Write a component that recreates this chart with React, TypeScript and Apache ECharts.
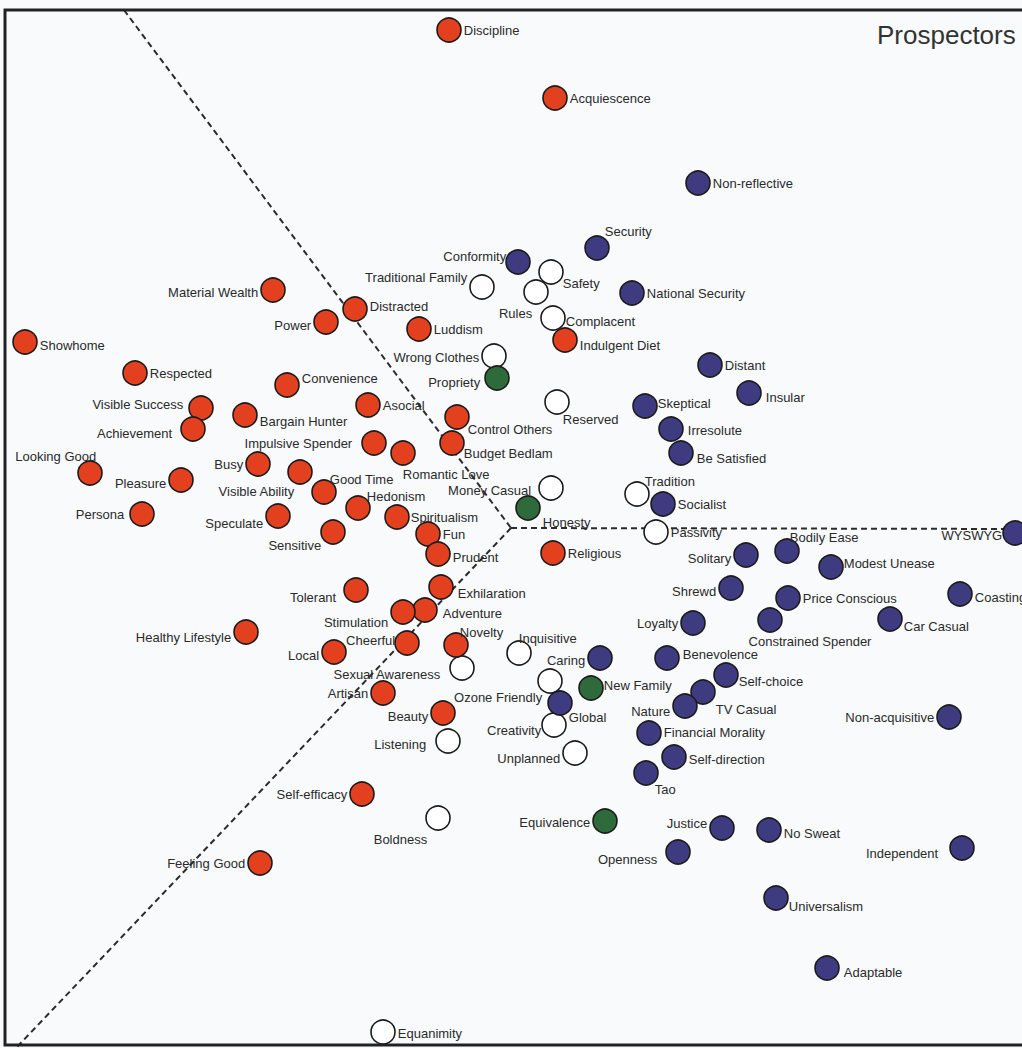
import React, { useEffect, useRef } from "react";
import * as echarts from "echarts";

// [label, x, y] — positions (pixel-like units, y grows downward)
const redPoints: [string, number, number][] = [
  ["Discipline", 449, 30],
  ["Acquiescence", 555, 98],
  ["Material Wealth", 273, 290],
  ["Distracted", 355, 309],
  ["Power", 326, 322],
  ["Luddism", 419, 329],
  ["Showhome", 25, 342],
  ["Indulgent Diet", 565, 340],
  ["Respected", 135, 373],
  ["Convenience", 287, 385],
  ["Asocial", 368, 405],
  ["Visible Success", 201, 408],
  ["Bargain Hunter", 245, 415],
  ["Control Others", 457, 417],
  ["Achievement", 193, 429],
  ["Impulsive Spender", 374, 443],
  ["Budget Bedlam", 452, 443],
  ["Romantic Love", 403, 453],
  ["Busy", 258, 464],
  ["Looking Good", 90, 473],
  ["Visible Ability", 300, 472],
  ["Pleasure", 181, 480],
  ["Good Time", 324, 492],
  ["Hedonism", 358, 508],
  ["Persona", 142, 514],
  ["Speculate", 278, 516],
  ["Spiritualism", 397, 517],
  ["Sensitive", 333, 532],
  ["Fun", 428, 534],
  ["Religious", 553, 553],
  ["Prudent", 438, 554],
  ["Exhilaration", 441, 587],
  ["Tolerant", 356, 590],
  ["Adventure", 425, 610],
  ["Stimulation", 403, 612],
  ["Healthy Lifestyle", 246, 632],
  ["Cheerful", 407, 643],
  ["Novelty", 456, 645],
  ["Local", 334, 652],
  ["Artisan", 383, 693],
  ["Beauty", 443, 713],
  ["Self-efficacy", 362, 794],
  ["Feeling Good", 260, 863],
];

const bluePoints: [string, number, number][] = [
  ["Non-reflective", 698, 183],
  ["Security", 597, 248],
  ["Conformity", 518, 262],
  ["National Security", 632, 293],
  ["Distant", 710, 365],
  ["Insular", 749, 393],
  ["Skeptical", 645, 406],
  ["Irresolute", 671, 429],
  ["Be Satisfied", 681, 453],
  ["Socialist", 663, 504],
  ["WYSWYG", 1015, 533],
  ["Bodily Ease", 787, 551],
  ["Solitary", 746, 555],
  ["Modest Unease", 831, 567],
  ["Shrewd", 731, 588],
  ["Coasting", 960, 594],
  ["Price Conscious", 788, 598],
  ["Car Casual", 890, 619],
  ["Constrained Spender", 770, 620],
  ["Loyalty", 693, 623],
  ["Caring", 600, 658],
  ["Benevolence", 667, 658],
  ["Self-choice", 726, 675],
  ["TV Casual", 703, 692],
  ["Global", 560, 703],
  ["Nature", 685, 706],
  ["Non-acquisitive", 949, 717],
  ["Financial Morality", 649, 733],
  ["Self-direction", 674, 757],
  ["Tao", 646, 773],
  ["Justice", 722, 828],
  ["No Sweat", 769, 830],
  ["Independent", 962, 848],
  ["Openness", 678, 852],
  ["Universalism", 776, 898],
  ["Adaptable", 827, 968],
];

const greenPoints: [string, number, number][] = [
  ["Propriety", 497, 378],
  ["Honesty", 528, 508],
  ["New Family", 591, 688],
  ["Equivalence", 605, 821],
];

const openPoints: [string, number, number][] = [
  ["Safety", 551, 272],
  ["Traditional Family", 482, 287],
  ["Rules", 536, 292],
  ["Complacent", 553, 318],
  ["Wrong Clothes", 494, 356],
  ["Reserved", 557, 402],
  ["Money Casual", 551, 488],
  ["Tradition", 637, 494],
  ["Passivity", 656, 532],
  ["Inquisitive", 519, 653],
  ["Sexual Awareness", 462, 668],
  ["Ozone Friendly", 550, 681],
  ["Creativity", 554, 725],
  ["Listening", 448, 741],
  ["Unplanned", 575, 753],
  ["Boldness", 438, 818],
  ["Equanimity", 383, 1032],
];

// dashed segment dividers
const dividerUpper: [number, number][] = [[124, 10], [511, 528]];
const dividerLower: [number, number][] = [[511, 528], [17, 1047]];
const dividerRight: [number, number][] = [[511, 528], [1022, 529]];

const titleText = "Prospectors";

// label placement: side, dx, dy (style only)
const placements: Record<string, [string, number, number]> = {
  "Material Wealth": ["l", 0, 2],
  Power: ["l", 0, 3],
  Distracted: ["r", 0, -3],
  Showhome: ["r", 0, 3],
  "Indulgent Diet": ["r", 0, 5],
  Convenience: ["r", 0, -7],
  "Visible Success": ["l", -3, -4],
  Achievement: ["l", -6, 4],
  "Bargain Hunter": ["r", 0, 6],
  "Control Others": ["r", -4, 12],
  "Budget Bedlam": ["r", -3, 10],
  "Impulsive Spender": ["l", -7, 0],
  "Romantic Love": ["r", -15, 21],
  "Looking Good": ["l", 21, -17],
  Busy: ["l", 0, 0],
  Pleasure: ["l", 0, 3],
  "Visible Ability": ["l", 9, 19],
  "Good Time": ["r", -9, -13],
  Hedonism: ["r", -6, -12],
  Spiritualism: ["r", -1, 0],
  Persona: ["l", -3, 0],
  Speculate: ["l", 0, 7],
  Sensitive: ["l", 3, 13],
  Prudent: ["r", 0, 3],
  Tolerant: ["l", -5, 7],
  Exhilaration: ["r", 2, 6],
  Stimulation: ["l", 0, 10],
  Adventure: ["r", 3, 3],
  "Healthy Lifestyle": ["l", 0, 5],
  Cheerful: ["l", 3, -3],
  Novelty: ["r", -11, -13],
  Local: ["l", 0, 3],
  Artisan: ["l", 0, 0],
  Beauty: ["l", 0, 3],
  "Self-efficacy": ["l", 0, 0],
  "Feeling Good": ["l", 0, 0],
  Security: ["r", -7, -17],
  Conformity: ["l", 3, -6],
  Insular: ["r", 2, 4],
  Skeptical: ["r", -2, -3],
  Irresolute: ["r", 2, 1],
  "Be Satisfied": ["r", 1, 5],
  "Bodily Ease": ["r", -12, -14],
  "Modest Unease": ["r", -2, -4],
  WYSWYG: ["l", 2, 2],
  Solitary: ["l", 0, 3],
  Shrewd: ["l", 0, 3],
  Coasting: ["r", 0, 3],
  "Car Casual": ["r", -1, 7],
  "Constrained Spender": ["b", 40, 0],
  Loyalty: ["l", 0, 0],
  Caring: ["l", 0, 2],
  Benevolence: ["r", 1, -4],
  "Self-choice": ["r", -2, 6],
  "TV Casual": ["r", -2, 17],
  Global: ["r", -6, 14],
  Nature: ["l", 0, 5],
  "Non-acquisitive": ["l", 0, 0],
  "Financial Morality": ["r", 0, -1],
  "Self-direction": ["r", 0, 2],
  Tao: ["r", -6, 16],
  Justice: ["l", 0, -5],
  "No Sweat": ["r", 0, 3],
  Independent: ["l", -9, 5],
  Openness: ["l", -6, 7],
  Universalism: ["r", -2, 8],
  Adaptable: ["r", 2, 4],
  Propriety: ["l", -2, 4],
  Honesty: ["r", 0, 14],
  "New Family": ["r", -2, -3],
  Equivalence: ["l", 0, 1],
  Safety: ["r", -3, 11],
  "Traditional Family": ["l", 0, -10],
  Rules: ["l", 11, 21],
  Complacent: ["r", -2, 3],
  "Wrong Clothes": ["l", 0, 1],
  Reserved: ["r", -9, 17],
  "Money Casual": ["l", -5, 2],
  Tradition: ["r", -7, -13],
  Passivity: ["r", 0, 0],
  Inquisitive: ["r", -15, -15],
  "Sexual Awareness": ["l", -7, 6],
  "Ozone Friendly": ["l", 7, 16],
  Creativity: ["l", 2, 5],
  Listening: ["l", -7, 3],
  Unplanned: ["l", 0, 5],
  Boldness: ["l", 4, 21],
  Equanimity: ["r", 0, 1],
};

const FONT = "'Liberation Sans', Arial, Helvetica, sans-serif";

function placementOf(name: string): [string, number, number] {
  return placements[name] || ["r", 0, 0];
}

function toItems(points: [string, number, number][]) {
  return points.map(([name, x, y]) => {
    const p = placementOf(name);
    const position = p[0] === "l" ? "left" : p[0] === "b" ? "bottom" : "right";
    return {
      name,
      value: [x, y],
      label: { position },
    };
  });
}

function scatter(name: string, points: [string, number, number][], fill: string) {
  return {
    name,
    type: "scatter",
    z: 5,
    symbol: "circle",
    symbolSize: 24,
    itemStyle: { color: fill, borderColor: "#1b1b1b", borderWidth: 1.6, opacity: 1 },
    label: {
      show: true,
      formatter: "{b}",
      distance: 2,
      fontFamily: FONT,
      fontSize: 13,
      color: "#2a2a2a",
    },
    labelLayout: (params: any) => {
      const item = points[params.dataIndex];
      const p = placementOf(item ? item[0] : "");
      return { dx: p[1], dy: p[2], hideOverlap: false };
    },
    data: toItems(points),
  };
}

function divider(points: [number, number][]) {
  return {
    type: "line",
    z: 1,
    symbol: "none",
    silent: true,
    lineStyle: { color: "#2b2b2b", width: 2, type: [6, 4] },
    data: points,
  };
}

export default function App() {
  const ref = useRef<HTMLDivElement>(null);
  useEffect(() => {
    if (!ref.current) return;
    const chart = echarts.init(ref.current, null, { renderer: "svg" });
    chart.setOption({
      animation: false,
      backgroundColor: "#f8fafc",
      title: {
        text: titleText,
        left: 872,
        top: 17,
        textStyle: { fontFamily: FONT, fontSize: 26, fontWeight: "normal", color: "#333" },
      },
      grid: { left: 0, right: 0, top: 0, bottom: 0 },
      xAxis: { type: "value", min: 0, max: 1022, show: false },
      yAxis: { type: "value", min: 0, max: 1048, inverse: true, show: false },
      graphic: [
        {
          type: "rect",
          z: 100,
          silent: true,
          shape: { x: 5, y: 10, width: 1040, height: 1035 },
          style: { fill: "none", stroke: "#222", lineWidth: 3 },
        },
      ],
      series: [
        divider(dividerUpper),
        divider(dividerLower),
        divider(dividerRight),
        scatter("open", openPoints, "#ffffff"),
        scatter("red", redPoints, "#e2401f"),
        scatter("blue", bluePoints, "#3e3b80"),
        scatter("green", greenPoints, "#2f6a3b"),
      ],
    });
    return () => chart.dispose();
  }, []);
  return (
    <div
      ref={ref}
      style={{ position: "absolute", left: 0, top: 0, width: 1022, height: 1048 }}
    />
  );
}
